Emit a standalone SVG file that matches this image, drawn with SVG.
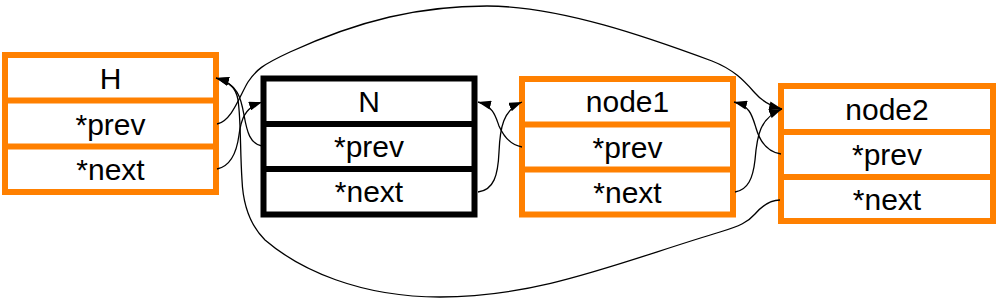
<svg xmlns="http://www.w3.org/2000/svg" width="997" height="303" viewBox="0 0 997 303">
<style>
.box{fill:#fff;stroke-width:6}
.o{stroke:#ff8000}
.b{stroke:#000}
.t{font-family:"Liberation Sans",Arial,sans-serif;font-size:30px;fill:#000;text-anchor:middle}
.e{fill:none;stroke:#000;stroke-width:1.3}
</style>
<defs>
<marker id="ah" viewBox="0 0 13 9" refX="13" refY="4.5" markerWidth="13" markerHeight="9" markerUnits="userSpaceOnUse" orient="auto">
<path d="M0,0 L13,4.5 L0,9 z" fill="#000"/>
</marker>
</defs>
<rect width="997" height="303" fill="#fff"/>
<g id="H">
<rect class="box o" x="5" y="55" width="211" height="137"/>
<line class="o" stroke-width="6" x1="5" y1="100.5" x2="216" y2="100.5"/>
<line class="o" stroke-width="6" x1="5" y1="146.5" x2="216" y2="146.5"/>
<text class="t" x="110.5" y="88.5">H</text>
<text class="t" x="110.5" y="134.5">*prev</text>
<text class="t" x="110.5" y="179.5">*next</text>
</g>
<g id="N">
<rect class="box b" x="263.5" y="78.5" width="211" height="136" stroke-width="6.5"/>
<line class="b" stroke-width="6" x1="263.5" y1="124" x2="474.5" y2="124"/>
<line class="b" stroke-width="6" x1="263.5" y1="169" x2="474.5" y2="169"/>
<text class="t" x="369" y="111.5">N</text>
<text class="t" x="369" y="157">*prev</text>
<text class="t" x="369" y="202">*next</text>
</g>
<g id="node1">
<rect class="box o" x="522" y="79" width="211" height="135.5"/>
<line class="o" stroke-width="6" x1="522" y1="124.5" x2="733" y2="124.5"/>
<line class="o" stroke-width="6" x1="522" y1="169.5" x2="733" y2="169.5"/>
<text class="t" x="627.5" y="112">node1</text>
<text class="t" x="627.5" y="157.5">*prev</text>
<text class="t" x="627.5" y="202.5">*next</text>
</g>
<g id="node2">
<rect class="box o" x="781" y="86" width="212" height="135"/>
<line class="o" stroke-width="6" x1="781" y1="132" x2="993" y2="132"/>
<line class="o" stroke-width="6" x1="781" y1="177" x2="993" y2="177"/>
<text class="t" x="887" y="119.5">node2</text>
<text class="t" x="887" y="165">*prev</text>
<text class="t" x="887" y="209.5">*next</text>
</g>
<g id="edges">
<path class="e" marker-end="url(#ah)" d="M217,124 C232,121 240,95 248,82 C256,70 262,65 290,52 C360,20 420,6 487,6 C560,6 650,38 712,61 C735,70 745,82 755,93 C762,101 770,106 782,109"/>
<path class="e" marker-end="url(#ah)" d="M217,169 C232,166 237,150 239,135 C241,120 244,108 262,102"/>
<path class="e" marker-end="url(#ah)" d="M262,146 C250,144 247,132 244,115 C241,98 238,84 216,78"/>
<path class="e" marker-end="url(#ah)" d="M780,200 C770,200 762,206 755,214 C748,222 740,226 720,232 C620,262 540,297 440,297 C360,297 300,270 265,240 C250,225 243,205 242,180 C240,150 241,120 238,100 C236,88 230,82 216,78"/>
<path class="e" marker-end="url(#ah)" d="M478,192 C494,190 498,175 499,152 C500,128 503,110 522,102"/>
<path class="e" marker-end="url(#ah)" d="M522,147 C510,145 503,135 499,126 C496,118 494,106 478,102"/>
<path class="e" marker-end="url(#ah)" d="M735,192 C748,190 753,178 755,160 C757,135 760,118 782,109"/>
<path class="e" marker-end="url(#ah)" d="M781,154 C768,152 760,142 756,128 C752,115 750,106 734,102"/>
</g>
</svg>
